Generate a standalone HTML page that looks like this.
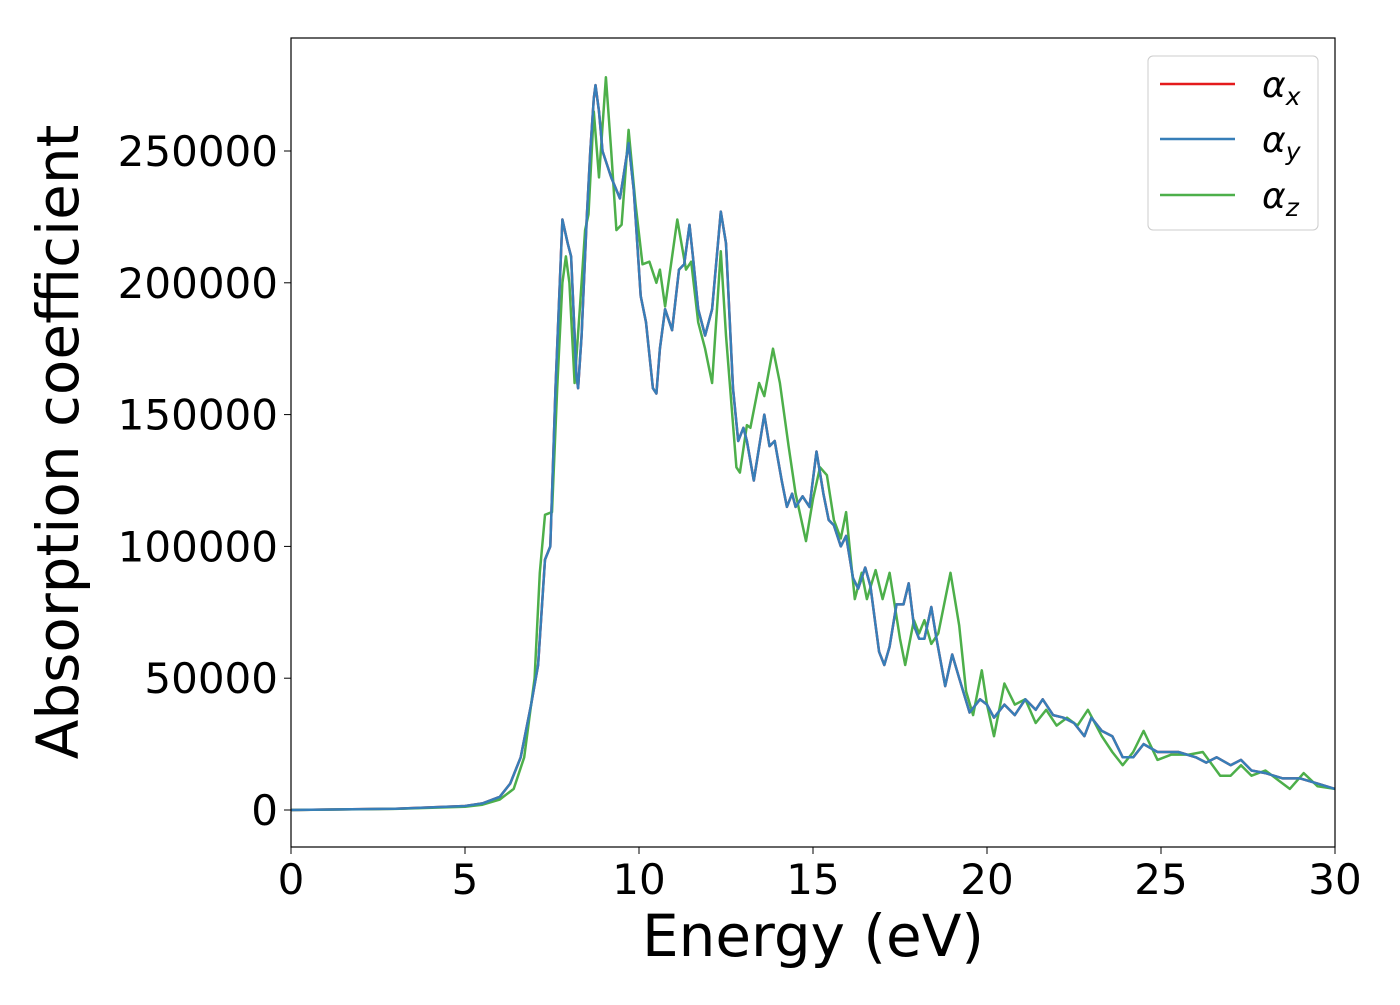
<!DOCTYPE html>
<html><head><meta charset="utf-8"><style>
body{margin:0;background:#fff;}
svg{font-family:"DejaVu Sans","Liberation Sans",sans-serif;}
</style></head><body>
<svg id="chart" width="1400" height="1000">
<rect x="0" y="0" width="1400" height="1000" fill="#fff"/>
<g id="ticks"></g>
<g id="plot"></g>
<rect x="291" y="38" width="1044" height="809" fill="none" stroke="#000" stroke-width="1.2"/>
<text x="813" y="956" font-size="58" text-anchor="middle">Energy (eV)</text>
<text x="78" y="442" font-size="58" text-anchor="middle" transform="rotate(-90 78 442)">Absorption coefficient</text>
<g>
<rect x="1148" y="56" width="170" height="174" rx="5" fill="#fff" fill-opacity="0.8" stroke="#ccc"/>
<line x1="1160" y1="84" x2="1235" y2="84" stroke="#e41a1c" stroke-width="2.5"/>
<text x="1262" y="97" font-size="36" font-style="italic">α<tspan font-size="25" dy="8">x</tspan></text>
<line x1="1160" y1="139" x2="1235" y2="139" stroke="#377eb8" stroke-width="2.5"/>
<text x="1262" y="152" font-size="36" font-style="italic">α<tspan font-size="25" dy="8">y</tspan></text>
<line x1="1160" y1="195" x2="1235" y2="195" stroke="#4daf4a" stroke-width="2.5"/>
<text x="1262" y="208" font-size="36" font-style="italic">α<tspan font-size="25" dy="8">z</tspan></text>
</g>
</svg>
<script>
const xyE=[0,3,5,5.5,6,6.3,6.6,6.9,7.1,7.3,7.45,7.6,7.8,7.95,8.05,8.2,8.25,8.35,8.5,8.6,8.7,8.75,8.85,8.95,9.2,9.45,9.55,9.7,9.85,10.05,10.2,10.4,10.5,10.6,10.75,10.95,11.15,11.3,11.45,11.55,11.7,11.9,12.1,12.35,12.5,12.7,12.85,13.0,13.1,13.3,13.6,13.75,13.9,14.1,14.25,14.4,14.5,14.7,14.9,15.1,15.3,15.45,15.6,15.8,15.95,16.15,16.3,16.5,16.65,16.8,16.9,17.05,17.2,17.4,17.6,17.75,17.9,18.05,18.2,18.4,18.55,18.8,19.0,19.2,19.5,19.8,20.0,20.2,20.5,20.8,21.1,21.4,21.6,21.9,22.2,22.5,22.8,23.0,23.3,23.6,23.9,24.2,24.5,24.9,25.5,26,26.3,26.6,27,27.3,27.6,28,28.5,29,29.5,30];
const xyV=[0,500,1500,2500,5000,10000,20000,40000,55000,95000,100000,160000,224000,215000,210000,165000,160000,180000,225000,250000,270000,275000,265000,250000,240000,232000,240000,253000,235000,195000,185000,160000,158000,175000,190000,182000,205000,207000,222000,210000,190000,180000,190000,227000,215000,160000,140000,145000,140000,125000,150000,138000,140000,125000,115000,120000,115000,119000,115000,136000,120000,110000,108000,100000,104000,88000,84000,92000,85000,70000,60000,55000,62000,78000,78000,86000,70000,65000,65000,77000,65000,47000,59000,50000,37000,42000,40000,35000,40000,36000,42000,38000,42000,36000,35000,33000,28000,35000,30000,28000,20000,20000,25000,22000,22000,20000,18000,20000,17000,19000,15000,14000,12000,12000,10000,8000];
const zE=[0,3,5,5.5,6,6.4,6.7,7.0,7.15,7.3,7.5,7.65,7.8,7.9,8.0,8.15,8.3,8.45,8.55,8.7,8.85,9.05,9.2,9.35,9.5,9.7,9.9,10.1,10.3,10.5,10.6,10.75,11.1,11.35,11.5,11.7,11.9,12.1,12.35,12.5,12.8,12.9,13.1,13.2,13.45,13.6,13.85,14.05,14.3,14.5,14.8,15.0,15.2,15.4,15.6,15.8,15.95,16.2,16.4,16.55,16.8,17.0,17.2,17.5,17.65,17.9,18.05,18.2,18.4,18.6,18.95,19.2,19.4,19.6,19.85,20.0,20.2,20.5,20.8,21.1,21.4,21.7,22.0,22.3,22.6,22.9,23.3,23.6,23.9,24.2,24.5,24.9,25.3,25.8,26.2,26.7,27.0,27.3,27.6,28,28.4,28.7,29.1,29.5,30];
const zV=[0,400,1200,2000,4000,8000,20000,50000,90000,112000,113000,160000,200000,210000,200000,162000,190000,220000,226000,265000,240000,278000,250000,220000,222000,258000,230000,207000,208000,200000,205000,191000,224000,205000,208000,185000,175000,162000,212000,180000,130000,128000,146000,145000,162000,157000,175000,162000,138000,120000,102000,118000,130000,127000,110000,103000,113000,80000,90000,80000,91000,80000,90000,65000,55000,72000,67000,72000,63000,67000,90000,70000,45000,36000,53000,40000,28000,48000,40000,42000,33000,38000,32000,35000,32000,38000,28000,22000,17000,22000,30000,19000,21000,21000,22000,13000,13000,17000,13000,15000,11000,8000,14000,9000,8000];
const xTicks=[0,5,10,15,20,25,30];
const yTicks=[0,50000,100000,150000,200000,250000];
const NS="http://www.w3.org/2000/svg";
const X0=291,X1=1335,XMIN=0,XMAX=30;
const YZ=810,YSC=659/250000;
function sx(v){return X0+(v-XMIN)/(XMAX-XMIN)*(X1-X0);}
function sy(v){return YZ-v*YSC;}
const tk=document.getElementById('ticks');
xTicks.forEach(t=>{
 const l=document.createElementNS(NS,'line');
 l.setAttribute('x1',sx(t));l.setAttribute('x2',sx(t));l.setAttribute('y1',847);l.setAttribute('y2',854);l.setAttribute('stroke','#000');
 
 
 tk.appendChild(l);
 const tx=document.createElementNS(NS,'text');
 tx.setAttribute('x',sx(t));tx.setAttribute('y',894);tx.setAttribute('font-size','42');tx.setAttribute('text-anchor','middle');
 tx.textContent=t;
 
 
 tk.appendChild(tx);
});
yTicks.forEach(t=>{
 const l=document.createElementNS(NS,'line');
 l.setAttribute('x1',284);l.setAttribute('x2',291);l.setAttribute('y1',sy(t));l.setAttribute('y2',sy(t));l.setAttribute('stroke','#000');
 
 
 tk.appendChild(l);
 const tx=document.createElementNS(NS,'text');
 tx.setAttribute('x',278);tx.setAttribute('y',sy(t)+15);tx.setAttribute('font-size','42');tx.setAttribute('text-anchor','end');
 tx.textContent=t;
 
 
 tk.appendChild(tx);
});
const plot=document.getElementById('plot');
function line(E,V,color,name){
 const p=document.createElementNS(NS,'polyline');
 p.setAttribute('points',E.map((e,i)=>sx(e).toFixed(1)+','+sy(V[i]).toFixed(1)).join(' '));
 p.setAttribute('fill','none');p.setAttribute('stroke',color);p.setAttribute('stroke-width','2.5');p.setAttribute('stroke-linejoin','round');
 
 
 plot.appendChild(p);
}
line(xyE,xyV,'#e41a1c','series-alpha-x');
line(zE,zV,'#4daf4a','series-alpha-z');
line(xyE,xyV,'#377eb8','series-alpha-y');
</script>
</body></html>
